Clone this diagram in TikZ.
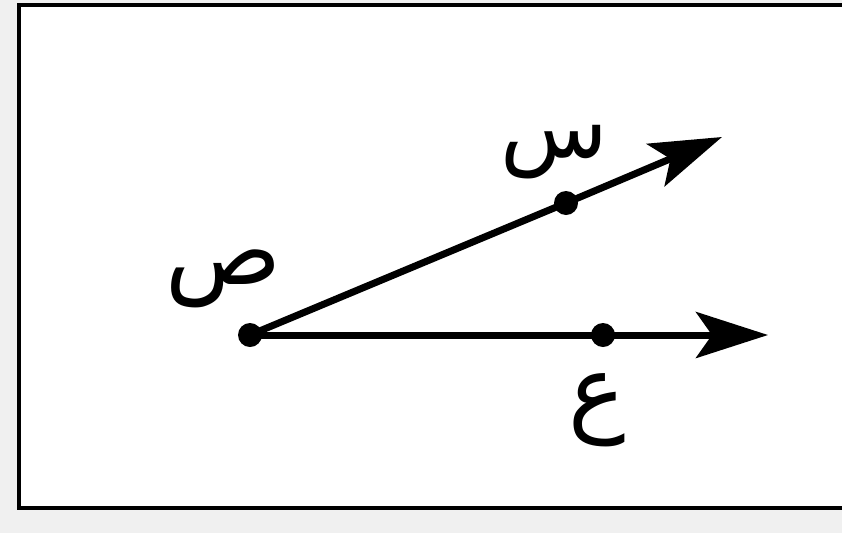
\documentclass[tikz,border=0pt]{standalone}
\usepackage{fontspec}
\usetikzlibrary{arrows.meta}
\TeXXeTstate=1
\newfontfamily\arabicfont[Script=Arabic]{DejaVu Sans}
\tikzset{
  dotpt/.style={circle,fill=black,inner sep=0pt,minimum size=24pt},
  ray/.style={line width=7pt,-{Stealth[length=72pt,width=46pt,inset=16pt]}},
  seg/.style={line width=7pt},
  lbl/.style={font=\arabicfont\fontsize{96}{100}\selectfont,inner sep=0pt}
}
\begin{document}
\begin{tikzpicture}[x=1pt,y=-1pt]
\fill[gray!12] (0,0) rectangle (842,533);
\useasboundingbox (0,0) rectangle (842,533);
\draw[line width=4.5pt,fill=white] (19,5) rectangle (850,508);
\coordinate (S) at (250,335);
\coordinate (X) at (566,203);
\coordinate (E) at (603,335);
\coordinate (tipX) at (722,137);
\coordinate (tipE) at (768,335);
\draw[seg] (S) -- (X);
\draw[ray] (X) -- (tipX);
\draw[seg] (S) -- (E);
\draw[ray] (E) -- (tipE);
\node[dotpt] (nS) at (S) {};
\node[dotpt] (nX) at (X) {};
\node[dotpt] (nE) at (E) {};
\node[lbl] (lS) at (224,279) {\beginR ص\endR};
\node[lbl,font=\arabicfont\fontsize{88}{92}\selectfont] (lX) at (554,152) {\beginR س\endR};
\node[lbl] (lE) at (597,410) {\beginR ع\endR};
\end{tikzpicture}
\end{document}
